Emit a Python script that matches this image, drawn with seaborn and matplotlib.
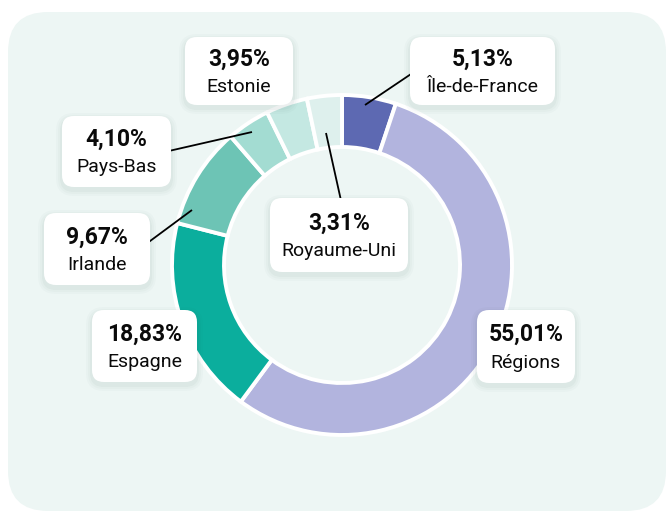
import matplotlib.pyplot as plt
from matplotlib.patches import FancyBboxPatch
import seaborn as sns

# share of the total, clockwise from 12 o'clock
REGIONS = ['Île-de-France', 'Régions', 'Espagne', 'Irlande', 'Pays-Bas', 'Estonie', 'Royaume-Uni']
SHARES = [5.13, 55.01, 18.83, 9.67, 4.10, 3.95, 3.31]
COLOURS = ['#5D69B2', '#B2B4DE', '#0BAE9D', '#6DC4B5', '#A3DCD2', '#C4E8E2', '#DEF0ED']

# layout in pixels (top-left origin): label box (x0, y0, x1, y1)
BOXES = {
    'Île-de-France': (410, 37, 555, 105),
    'Régions': (477, 310, 575, 383),
    'Espagne': (92, 310, 197, 382),
    'Irlande': (44, 213, 150, 285),
    'Pays-Bas': (62, 116, 171, 187),
    'Estonie': (185, 37, 293, 105),
    'Royaume-Uni': (270, 198, 408, 272),
}
# leader lines: (start on the ring, end at the box)
LEADERS = {
    'Île-de-France': ((365, 105), (417, 70)),
    'Irlande': ((192, 210), (142, 247)),
    'Pays-Bas': ((252, 132), (160, 153)),
    'Royaume-Uni': ((326, 133), (342, 205)),
}

W, H = 667, 512
CENTRE = (342, 265)
R_OUT, RING = 170, 52
PANEL = '#EDF6F4'


def fmt_pct(v):
    return f'{v:.2f}'.replace('.', ',') + '%'


def draw_label(ax, name, value):
    x0, y0, x1, y1 = BOXES[name]
    # soft drop shadow
    for grow, alpha in [(6, 0.018), (4, 0.025), (2, 0.035)]:
        ax.add_patch(FancyBboxPatch((x0 - grow, y0 - grow + 3), x1 - x0 + 2 * grow, y1 - y0 + 2 * grow,
                                    boxstyle=f'round,pad=0,rounding_size={12 + grow}',
                                    fc='#1f4a44', ec='none', alpha=alpha, zorder=4))
    ax.add_patch(FancyBboxPatch((x0, y0), x1 - x0, y1 - y0,
                                boxstyle='round,pad=0,rounding_size=12',
                                fc='white', ec='none', zorder=5))
    cx, cy = (x0 + x1) / 2, (y0 + y1) / 2
    ax.text(cx, cy - 12, fmt_pct(value), ha='center', va='center',
            fontsize=16.5, fontweight='bold', color='#0a0a0a', zorder=6)
    ax.text(cx, cy + 16, name, ha='center', va='center',
            fontsize=14, color='#0a0a0a', zorder=6)


def main():
    sns.set_theme(style='white')
    plt.rcParams['font.family'] = ['Roboto', 'DejaVu Sans']
    palette = sns.color_palette(COLOURS)

    fig = plt.figure(figsize=(W / 100, H / 100), dpi=100)
    fig.patch.set_facecolor('white')
    ax = fig.add_axes([0, 0, 1, 1])

    ax.add_patch(FancyBboxPatch((8, 12), W - 9, H - 13,
                                boxstyle='round,pad=0,rounding_size=40',
                                fc=PANEL, ec='none', zorder=0))

    # y axis is flipped below, so counterclock in data runs clockwise on screen
    ax.pie(SHARES, colors=palette, startangle=-90, counterclock=True,
           radius=R_OUT, center=CENTRE,
           wedgeprops=dict(width=RING, edgecolor='white', linewidth=2.8, zorder=2))

    for name, ((xa, ya), (xb, yb)) in LEADERS.items():
        ax.plot([xa, xb], [ya, yb], color='black', lw=1.3, zorder=3, solid_capstyle='butt')

    for name, value in zip(REGIONS, SHARES):
        draw_label(ax, name, value)

    ax.set_xlim(0, W)
    ax.set_ylim(H, 0)
    ax.set_aspect('equal')
    ax.axis('off')

    fig.savefig('out.png', dpi=100)
    plt.close(fig)


if __name__ == '__main__':
    main()
